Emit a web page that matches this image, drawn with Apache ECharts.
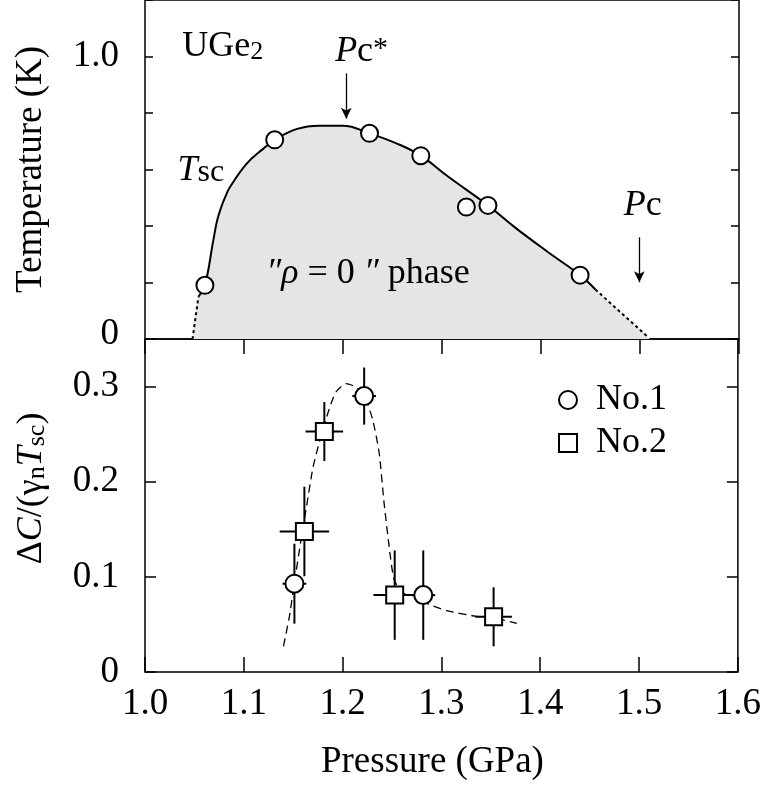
<!DOCTYPE html>
<html lang="en">
<head>
<meta charset="UTF-8">
<title>UGe2 Tsc and specific heat jump</title>
<style>
  html, body { margin: 0; padding: 0; background: #fff; }
  #chart { width: 764px; height: 789px; }
</style>
</head>
<body>
<div id="chart"></div>
<script src="https://cdn.jsdelivr.net/npm/echarts/dist/echarts.min.js"></script>
<script>
  const FONT = 'Liberation Serif';

  // ---- top panel: Tsc(P) ----
  const tscPoints = [[1.0605, 0.19], [1.131, 0.705], [1.2268, 0.728], [1.2786, 0.649],
    [1.3246, 0.467], [1.3464, 0.473], [1.4395, 0.226]];
  const tscSolid = [[1.054, 0.15], [1.0605, 0.19], [1.069, 0.349], [1.0729, 0.42], [1.0773, 0.47],
    [1.0813, 0.505], [1.0857, 0.537], [1.1025, 0.62], [1.1193, 0.673], [1.131, 0.705],
    [1.1529, 0.743], [1.1764, 0.755], [1.2, 0.755], [1.2268, 0.728], [1.2557, 0.69],
    [1.2786, 0.649], [1.3061, 0.575], [1.3464, 0.473], [1.3733, 0.396], [1.4069, 0.308],
    [1.4395, 0.226], [1.455, 0.175]];
  const tscLowDotted = [[1.048, 0], [1.054, 0.15]];
  const tscHighDotted = [[1.455, 0.175], [1.507, 0.01]];
  const tscArrows = [[1.2033, 0.94, 0.78], [1.4993, 0.36, 0.201]];

  // ---- bottom panel: dC/(gamma_n Tsc) ----
  const no1 = [[1.1512, 0.0928], [1.2218, 0.290], [1.2816, 0.0808]];
  const no1Err = [[0.012, 0.042], [0.012, 0.030], [0.012, 0.047]];
  const no2 = [[1.1613, 0.1477], [1.1815, 0.2528], [1.2527, 0.0808], [1.3528, 0.058]];
  const no2Err = [[0.025, 0.047], [0.019, 0.031], [0.0215, 0.047], [0.0185, 0.031]];
  const guide = [[1.1401, 0.027], [1.1462, 0.0587], [1.1512, 0.0939], [1.158, 0.1395], [1.163, 0.171],
    [1.1697, 0.2134], [1.1764, 0.2416], [1.1865, 0.2767], [1.1932, 0.2943], [1.2033, 0.303],
    [1.2134, 0.2996], [1.2218, 0.2907], [1.2302, 0.266], [1.2369, 0.231], [1.2419, 0.1783],
    [1.247, 0.1325], [1.252, 0.0974], [1.2604, 0.0833], [1.2739, 0.0798], [1.2873, 0.071],
    [1.3075, 0.064], [1.3343, 0.0587], [1.3528, 0.057], [1.3763, 0.051]];

  // ---- text notes in the top panel ----
  const noteText = ['{r|UGe}{sub|2}', '{i|P}{r|c}{sup|*}', '{i|T}{s|sc}', '{i|″ρ}{r| = 0 }{i|″}{r| phase}', '{i|P}{r|c}'];
  const noteAt = [[1.0786, 1.034], [1.2188, 1.016], [1.0565, 0.596], [1.2253, 0.233], [1.5027, 0.473]];

  const rich = {
    r: {fontFamily: FONT, fontSize: 36, color: '#000'},
    i: {fontFamily: FONT, fontSize: 36, fontStyle: 'italic', color: '#000'},
    s: {fontFamily: FONT, fontSize: 32, color: '#000', verticalAlign: 'bottom', lineHeight: 30},
    sub: {fontFamily: FONT, fontSize: 26, color: '#000', verticalAlign: 'bottom', lineHeight: 16},
    sup: {fontFamily: FONT, fontSize: 30, color: '#000', verticalAlign: 'top', lineHeight: 12},
  };

  const withErr = (pts, err) => pts.map((p, i) => [p[0], p[1], err[i][0], err[i][1]]);

  function errorBars(params, api) {
    const x = api.value(0), y = api.value(1), dx = api.value(2), dy = api.value(3);
    const c = api.coord([x, y]);
    const l = api.coord([x - dx, y]), r = api.coord([x + dx, y]);
    const t = api.coord([x, y + dy]), b = api.coord([x, y - dy]);
    const st = {stroke: '#000', lineWidth: 2};
    return {
      type: 'group', children: [
        {type: 'line', shape: {x1: l[0], y1: c[1], x2: r[0], y2: c[1]}, style: st},
        {type: 'line', shape: {x1: c[0], y1: t[1], x2: c[0], y2: b[1]}, style: st},
      ],
    };
  }

  const tickStyle = {color: '#000', width: 1.5};
  const hollow = {color: '#fff', borderColor: '#000', borderWidth: 2, opacity: 1};

  const option = {
    animation: false,
    backgroundColor: '#fff',
    grid: [
      {left: 145, top: 0, width: 594, height: 339, show: true, borderColor: '#000', borderWidth: 1.5},
      {left: 145, top: 339, width: 594, height: 333, show: true, borderColor: '#000', borderWidth: 1.5},
    ],
    legend: {
      orient: 'vertical', left: 553, top: 377, itemWidth: 18, itemHeight: 18, itemGap: 7,
      textStyle: {fontFamily: FONT, fontSize: 36, color: '#000', padding: [0, 0, 0, 14]},
      itemStyle: hollow,
      data: [{name: 'No.1', icon: 'circle'}, {name: 'No.2', icon: 'rect'}],
    },
    xAxis: [
      {
        gridIndex: 0, type: 'value', min: 1, max: 1.6, interval: 0.1, position: 'top',
        axisLine: {show: false}, splitLine: {show: false}, axisLabel: {show: false},
        axisTick: {inside: true, length: 15, lineStyle: tickStyle},
      },
      {
        gridIndex: 1, type: 'value', min: 1, max: 1.6, interval: 0.1, position: 'bottom',
        axisLine: {show: false}, splitLine: {show: false},
        axisTick: {inside: true, length: 15, lineStyle: tickStyle},
        axisLabel: {fontFamily: FONT, fontSize: 37, color: '#000', margin: 14, formatter: v => v.toFixed(1)},
        name: 'Pressure (GPa)', nameLocation: 'middle', nameGap: 72,
        nameTextStyle: {fontFamily: FONT, fontSize: 37, color: '#000', padding: [0, 18, 0, 0]},
      },
    ],
    yAxis: [
      {
        gridIndex: 0, type: 'value', min: 0, max: 1.2, interval: 0.2, position: 'left',
        axisLine: {show: false}, splitLine: {show: false},
        axisTick: {inside: true, length: 8, lineStyle: tickStyle},
        axisLabel: {
          fontFamily: FONT, fontSize: 37, color: '#000', margin: 26,
          formatter: v => (v === 0 ? '{z|0}' : (Math.abs(v - 1) < 1e-6 ? '1.0' : '')),
          rich: {z: {fontFamily: FONT, fontSize: 37, color: '#000', padding: [0, 0, 10, 0]}},
        },
        name: 'Temperature (K)', nameLocation: 'middle', nameRotate: 90, nameGap: 95,
        nameTextStyle: {fontFamily: FONT, fontSize: 37, color: '#000'},
      },
      {
        gridIndex: 0, type: 'value', min: 0, max: 1.2, interval: 0.2, position: 'right',
        axisLine: {show: false}, splitLine: {show: false}, axisLabel: {show: false},
        axisTick: {inside: true, length: 8, lineStyle: tickStyle},
      },
      {
        gridIndex: 1, type: 'value', min: 0, max: 0.35, interval: 0.1, position: 'left',
        axisLine: {show: false}, splitLine: {show: false},
        axisTick: {inside: true, length: 11, lineStyle: tickStyle},
        axisLabel: {
          fontFamily: FONT, fontSize: 37, color: '#000', margin: 26,
          formatter: v => (v === 0 ? '0' : (v > 0.34 ? '' : v.toFixed(1))),
        },
        name: '{r|Δ}{i|C}{r|/(γ}{sub|n}{i|T}{sub|sc}{r|)}', nameLocation: 'middle', nameRotate: 90, nameGap: 95,
        nameTextStyle: {rich: rich, padding: [0, 0, 0, 34]},
      },
      {
        gridIndex: 1, type: 'value', min: 0, max: 0.35, interval: 0.1, position: 'right',
        axisLine: {show: false}, splitLine: {show: false}, axisLabel: {show: false},
        axisTick: {inside: true, length: 11, lineStyle: tickStyle},
      },
    ],
    series: [
      {
        name: 'area', type: 'line', xAxisIndex: 0, yAxisIndex: 0, smooth: 0.4, showSymbol: false, silent: true,
        data: [].concat(tscLowDotted, tscSolid.slice(1), tscHighDotted.slice(1), [[1.51, 0]]),
        lineStyle: {width: 0}, areaStyle: {color: '#e5e5e5', opacity: 1},
      },
      {
        name: 'Tsc', type: 'line', xAxisIndex: 0, yAxisIndex: 0, smooth: 0.4, showSymbol: false,
        data: tscSolid, lineStyle: {color: '#000', width: 2},
      },
      {
        name: 'Tsc low', type: 'line', xAxisIndex: 0, yAxisIndex: 0, showSymbol: false,
        data: tscLowDotted, lineStyle: {color: '#000', width: 2, type: [3, 3]},
      },
      {
        name: 'Tsc high', type: 'line', xAxisIndex: 0, yAxisIndex: 0, showSymbol: false,
        data: tscHighDotted, lineStyle: {color: '#000', width: 2, type: [3, 3]},
      },
      {
        name: 'Tsc points', type: 'scatter', xAxisIndex: 0, yAxisIndex: 0, symbol: 'circle', symbolSize: 17,
        data: tscPoints, itemStyle: hollow, z: 5,
        markLine: {
          silent: true, symbol: ['none', 'arrow'], symbolSize: [8, 11],
          lineStyle: {color: '#000', width: 1.3, type: 'solid'}, label: {show: false},
          data: tscArrows.map(a => [{coord: [a[0], a[1]]}, {coord: [a[0], a[2]]}]),
        },
      },
      {
        name: 'notes', type: 'scatter', xAxisIndex: 0, yAxisIndex: 0, symbolSize: 1, silent: true, z: 6,
        itemStyle: {color: 'rgba(0,0,0,0)', opacity: 1},
        data: noteAt.map((p, i) => ({
          value: p,
          label: {show: true, position: 'inside', formatter: noteText[i], rich: rich, opacity: 1},
        })),
      },
      {
        name: 'guide', type: 'line', xAxisIndex: 1, yAxisIndex: 2, smooth: 0.2, showSymbol: false,
        data: guide, lineStyle: {color: '#000', width: 1.3, type: [8, 5]},
      },
      {
        name: 'err1', type: 'custom', xAxisIndex: 1, yAxisIndex: 2, renderItem: errorBars,
        data: withErr(no1, no1Err), z: 3,
      },
      {
        name: 'err2', type: 'custom', xAxisIndex: 1, yAxisIndex: 2, renderItem: errorBars,
        data: withErr(no2, no2Err), z: 3,
      },
      {
        name: 'No.1', type: 'scatter', xAxisIndex: 1, yAxisIndex: 2, symbol: 'circle', symbolSize: 18,
        data: no1, itemStyle: hollow, z: 5,
      },
      {
        name: 'No.2', type: 'scatter', xAxisIndex: 1, yAxisIndex: 2, symbol: 'rect', symbolSize: 17,
        data: no2, itemStyle: hollow, z: 5,
      },
    ],
  };

  const chart = echarts.init(document.getElementById('chart'));
  chart.setOption(option);
</script>
</body>
</html>
